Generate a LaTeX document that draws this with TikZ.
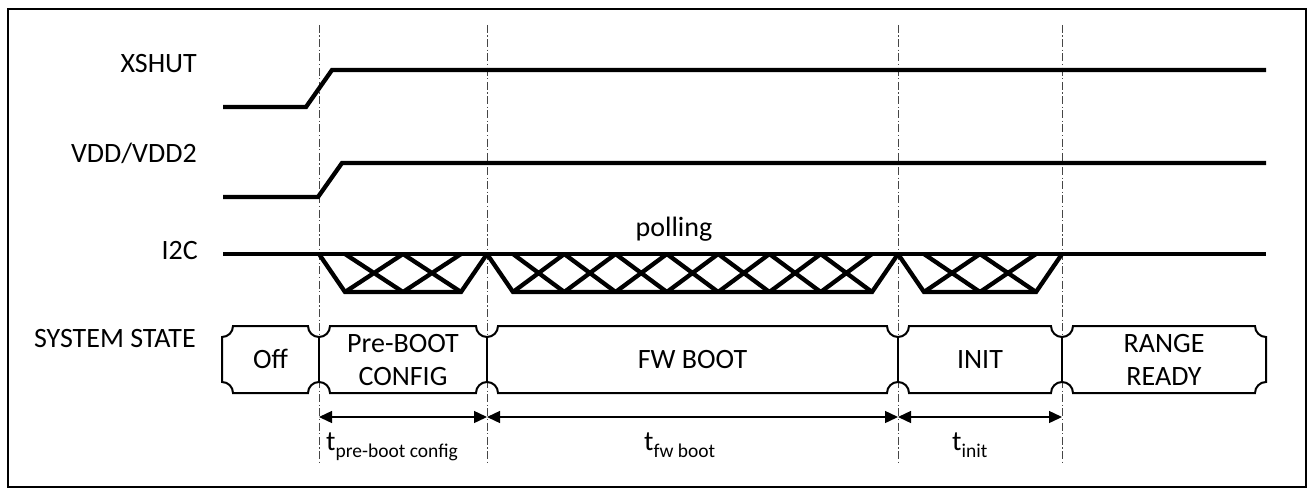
\documentclass[tikz,border=0pt]{standalone}
\usepackage{fontspec}
\setmainfont{Carlito}
\usetikzlibrary{arrows.meta}

% one bus phase between two boundaries: slanted edges, a bottom rail and #3 crossing cells
\newcommand{\busseg}[3]{%
  \pgfmathsetmacro\busl{#1+26}%
  \pgfmathsetmacro\busr{#2-26}%
  \pgfmathsetmacro\busw{(\busr-\busl)/#3}%
  \draw[sig] (#1,254) -- (\busl,292) -- (\busr,292) -- (#2,254);
  \foreach \k in {1,...,#3}{%
    \pgfmathsetmacro\xa{\busl+(\k-1)*\busw}%
    \pgfmathsetmacro\xb{\busl+\k*\busw}%
    \draw[sig] (\xa,292) -- (\xb,254) (\xa,254) -- (\xb,292);
  }%
}

\begin{document}
\begin{tikzpicture}[x=1pt,y=-1pt,
  sig/.style={line width=4.3pt, line join=miter},
  guide/.style={line width=0.9pt, gray!55!black,
    dash pattern=on 8pt off 2.5pt on 1.2pt off 2.5pt},
  stateline/.style={line width=2pt},
  dimline/.style={line width=1.4pt,
    {Triangle[length=13pt,width=12pt]}-{Triangle[length=13pt,width=12pt]}},
  lbl/.style={inner sep=0pt, anchor=base east, font=\fontsize{28}{33}\selectfont},
  txt/.style={inner sep=0pt, anchor=base, font=\fontsize{28}{33}\selectfont},
  tlbl/.style={inner sep=0pt, anchor=base west, font=\fontsize{28}{33}\selectfont}]

\useasboundingbox (0,0) rectangle (1313,495);
\fill[white] (0,0) rectangle (1313,495);

% outer frame
\draw[line width=2pt] (8,9) rectangle (1306,487);

% phase boundaries
\foreach \x in {319,487,898,1062}
  \draw[guide] (\x,25) -- (\x,465);

% signal names
\node[lbl] (nxshut) at (197,73) {XSHUT};
\node[lbl] (nvdd)   at (197,162) {VDD/VDD2};
\node[lbl] (ni2c)   at (198,259) {I2C};
\node[lbl] (nstate) at (196,347) {SYSTEM STATE};

% XSHUT and supply waveforms
\draw[sig] (223,107) -- (306,107) -- (332,70) -- (1266,70);
\draw[sig] (223,197) -- (318,197) -- (342,163) -- (1266,163);

% I2C bus
\draw[sig] (223,254) -- (1266,254);
\busseg{319}{487}{2}
\busseg{487}{898}{7}
\busseg{898}{1062}{2}
\node[txt] (npoll) at (674,236.5) {polling};

% system state boxes with notched corners
\def\rr{11}
\draw[stateline]
  (222,337) arc[start angle=90, end angle=0, radius=\rr]
  -- (308,326) arc[start angle=180, end angle=0, radius=\rr]
  -- (476,326) arc[start angle=180, end angle=0, radius=\rr]
  -- (887,326) arc[start angle=180, end angle=0, radius=\rr]
  -- (1051,326) arc[start angle=180, end angle=0, radius=\rr]
  -- (1255,326) arc[start angle=180, end angle=90, radius=\rr]
  -- (1266,382) arc[start angle=270, end angle=180, radius=\rr]
  -- (1073,393) arc[start angle=0, end angle=-180, radius=\rr]
  -- (909,393) arc[start angle=0, end angle=-180, radius=\rr]
  -- (498,393) arc[start angle=0, end angle=-180, radius=\rr]
  -- (330,393) arc[start angle=0, end angle=-180, radius=\rr]
  -- (233,393) arc[start angle=0, end angle=-90, radius=\rr]
  -- cycle;
\foreach \x in {319,487,898,1062}
  \draw[stateline] (\x,337) -- (\x,382);

\node[txt] (soff)   at (270.5,368) {Off};
\node[txt] (spre)   at (403,352) {Pre-BOOT};
\node[txt] (sprecf) at (403,385) {CONFIG};
\node[txt] (sfw)    at (692.5,368) {FW BOOT};
\node[txt] (sinit)  at (980,368) {INIT};
\node[txt] (srange) at (1164,352) {RANGE};
\node[txt] (sready) at (1164,385) {READY};

% phase durations
\coordinate (d1) at (319,417);
\coordinate (d2) at (487,417);
\coordinate (d3) at (898,417);
\coordinate (d4) at (1062,417);
\draw[dimline] (d1) -- (d2);
\draw[dimline] (d2) -- (d3);
\draw[dimline] (d3) -- (d4);

\node[tlbl] (tpre)  at (326,450) {t\raisebox{-7pt}{\fontsize{19.5}{22}\selectfont pre-boot config}};
\node[tlbl] (tfw)   at (644,450) {t\raisebox{-7pt}{\fontsize{19.5}{22}\selectfont fw boot}};
\node[tlbl] (tinit) at (952,450) {t\raisebox{-7pt}{\fontsize{19.5}{22}\selectfont init}};
\end{tikzpicture}
\end{document}
